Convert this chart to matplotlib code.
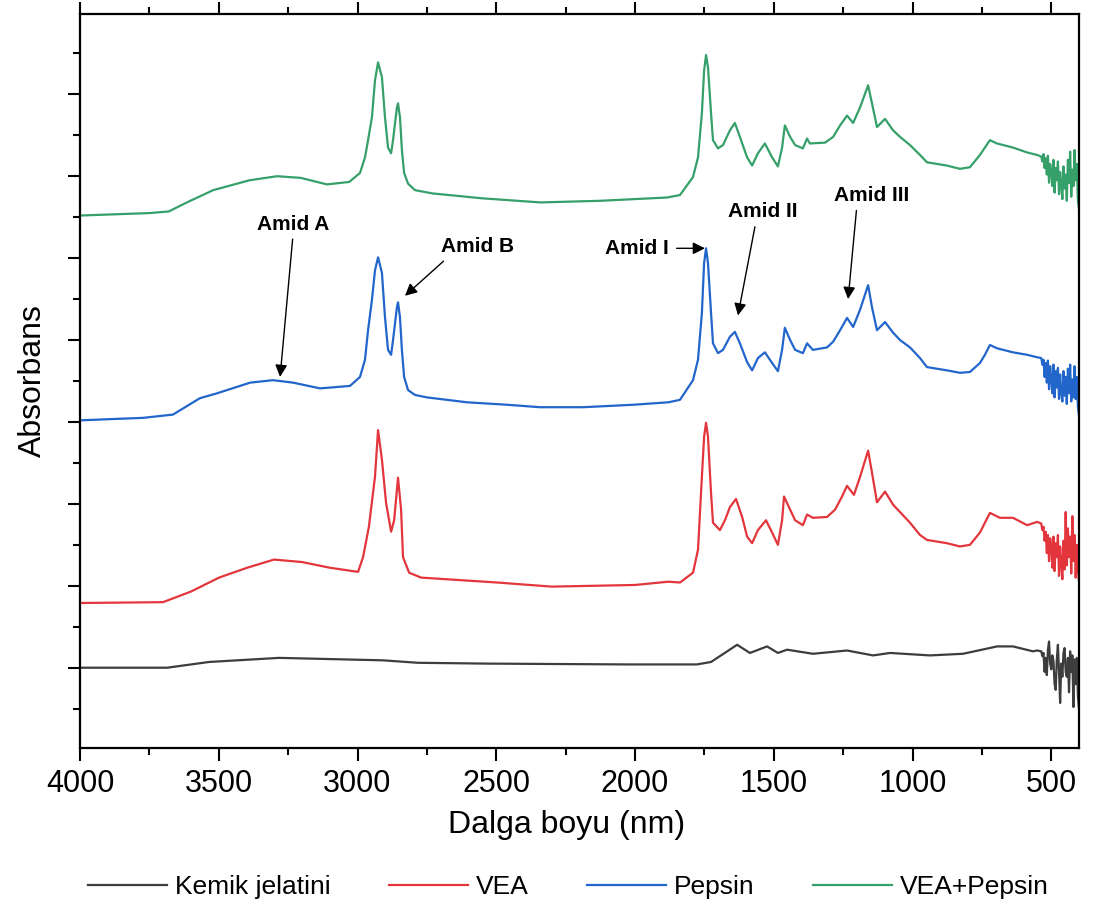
import numpy as np
import matplotlib
matplotlib.use('Agg')
import matplotlib.pyplot as plt
from matplotlib.ticker import MultipleLocator

plt.rcParams['font.family'] = ['Liberation Sans', 'DejaVu Sans']

# Kemik jelatini (gray)
wn_kemik = [4000, 3686, 3535, 3283, 3157, 2908, 2782, 2530, 2029, 1777, 1726, 1632, 1586,
            1524, 1485, 1452, 1359, 1236, 1142, 1081, 937, 818, 695, 638, 566, 551]
a_kemik = [0.0, 0.0, 0.07, 0.12, 0.11, 0.09, 0.06, 0.05, 0.04, 0.04, 0.07, 0.28, 0.18,
           0.26, 0.18, 0.22, 0.17, 0.21, 0.15, 0.18, 0.15, 0.17, 0.26, 0.26, 0.20, 0.21]

# VEA (red)
wn_vea = [4000, 3701, 3600, 3499, 3398, 3301, 3200, 3099, 2998,
          2980, 2959, 2937, 2926, 2912, 2897, 2879, 2868, 2854, 2843,
          2836, 2814, 2771, 2497, 2300, 2000, 1880, 1838, 1791, 1773,
          1759, 1751, 1744, 1737, 1726, 1719, 1694, 1676, 1658, 1636,
          1614, 1596, 1578, 1557, 1528, 1506, 1485, 1470, 1463, 1441,
          1423, 1395, 1380, 1359, 1308, 1279, 1254, 1236, 1211, 1189,
          1160, 1146, 1128, 1099, 1070, 1045, 1009, 973, 948, 912,
          876, 829, 793, 757, 739, 721, 685, 638, 587, 551]
a_vea = [0.79, 0.80, 0.93, 1.10, 1.22, 1.32, 1.29, 1.22, 1.17,
         1.35, 1.72, 2.33, 2.90, 2.54, 2.01, 1.66, 1.80, 2.32, 1.93,
         1.35, 1.16, 1.10, 1.04, 0.99, 1.01, 1.05, 1.04, 1.16, 1.44,
         2.33, 2.82, 2.99, 2.82, 2.13, 1.77, 1.68, 1.80, 1.96, 2.06,
         1.84, 1.60, 1.52, 1.68, 1.80, 1.65, 1.50, 1.80, 2.09, 1.93,
         1.80, 1.74, 1.87, 1.83, 1.84, 1.93, 2.09, 2.22, 2.11, 2.33,
         2.65, 2.38, 2.02, 2.15, 1.99, 1.90, 1.77, 1.62, 1.56, 1.54,
         1.52, 1.48, 1.50, 1.65, 1.77, 1.89, 1.83, 1.83, 1.74, 1.78]

# Pepsin (blue)
wn_pepsin = [4000, 3773, 3665, 3568, 3506, 3387, 3305, 3232, 3135, 3027,
             2991, 2973, 2962, 2948, 2937, 2926, 2912, 2901, 2890, 2879,
             2872, 2858, 2854, 2847, 2840, 2832, 2818, 2793,
             2750, 2605, 2461, 2342, 2187, 2007,
             1880, 1838, 1791, 1773, 1759, 1751, 1744, 1737, 1726, 1719,
             1701, 1683, 1658, 1640, 1622, 1596, 1578, 1557, 1532, 1506,
             1485, 1470, 1460, 1441, 1423, 1395, 1380, 1359, 1308, 1286,
             1261, 1236, 1214, 1189, 1160, 1146, 1128, 1099, 1070, 1045,
             1009, 973, 948, 912, 876, 829, 793, 757, 739, 721,
             696, 638, 587, 551]
a_pepsin = [3.02, 3.05, 3.09, 3.29, 3.35, 3.48, 3.51, 3.48, 3.41, 3.44,
            3.55, 3.76, 4.12, 4.49, 4.85, 5.01, 4.82, 4.28, 3.88, 3.82,
            4.00, 4.40, 4.46, 4.28, 3.88, 3.55, 3.39, 3.33,
            3.30, 3.24, 3.21, 3.18, 3.18, 3.21,
            3.24, 3.27, 3.51, 3.76, 4.33, 4.94, 5.12, 4.94, 4.33, 3.96,
            3.84, 3.88, 4.04, 4.10, 3.96, 3.73, 3.63, 3.78, 3.85, 3.72,
            3.62, 3.88, 4.15, 4.00, 3.88, 3.84, 3.96, 3.88, 3.91, 3.98,
            4.12, 4.27, 4.16, 4.37, 4.67, 4.40, 4.12, 4.22, 4.09, 4.00,
            3.91, 3.78, 3.67, 3.65, 3.63, 3.60, 3.61, 3.72, 3.82, 3.94,
            3.90, 3.85, 3.82, 3.79]

# VEA+Pepsin (green)
wn_vp = [4000, 3750, 3680, 3615, 3520, 3390, 3290, 3205, 3110, 3030,
         2991, 2973, 2962, 2948, 2937, 2926, 2912, 2901, 2890, 2879,
         2872, 2858, 2854, 2847, 2840, 2832, 2818, 2793, 2730, 2550,
         2340, 2125, 1885, 1838, 1791, 1773, 1759, 1751, 1744, 1737,
         1726, 1719, 1701, 1683, 1658, 1640, 1622, 1596, 1578, 1557,
         1532, 1506, 1485, 1470, 1460, 1441, 1423, 1395, 1380, 1370,
         1315, 1286, 1261, 1236, 1214, 1189, 1160, 1146, 1128, 1099,
         1070, 1045, 1009, 973, 948, 912, 876, 829, 793, 757,
         739, 721, 696, 638, 587, 551]
a_vp = [5.52, 5.55, 5.57, 5.68, 5.83, 5.95, 6.00, 5.98, 5.90, 5.93,
        6.04, 6.23, 6.44, 6.72, 7.17, 7.39, 7.21, 6.72, 6.35, 6.28,
        6.44, 6.84, 6.89, 6.72, 6.32, 6.04, 5.91, 5.83, 5.79, 5.73,
        5.68, 5.70, 5.74, 5.77, 5.99, 6.23, 6.77, 7.29, 7.48, 7.33,
        6.77, 6.44, 6.34, 6.38, 6.56, 6.65, 6.48, 6.23, 6.13, 6.28,
        6.40, 6.23, 6.12, 6.35, 6.62, 6.48, 6.38, 6.34, 6.46, 6.40,
        6.41, 6.48, 6.62, 6.74, 6.65, 6.84, 7.11, 6.89, 6.60, 6.70,
        6.56, 6.48, 6.38, 6.26, 6.17, 6.15, 6.13, 6.09, 6.11, 6.26,
        6.35, 6.44, 6.40, 6.35, 6.29, 6.26]

# noisy tail below ~540 nm, same sampling for all four
wn_tail = list(range(536, 399, -4))
tail_kemik = [0.20, 0.14, 0.18, -0.05, 0.12, -0.09, 0.22, 0.32, 0.05, -0.02,
              0.15, 0.08, -0.20, -0.27, 0.10, 0.28, -0.05, -0.43, 0.05, -0.11,
              0.18, 0.24, -0.05, -0.11, 0.12, -0.30, 0.20, -0.05, 0.15, -0.48,
              0.10, -0.20, 0.12, -0.35, -0.50]
tail_vea = [1.76, 1.68, 1.72, 1.55, 1.66, 1.40, 1.62, 1.30, 1.58, 1.48,
            1.22, 1.60, 1.18, 1.52, 1.35, 1.62, 1.12, 1.48, 1.28, 1.08,
            1.55, 1.20, 1.90, 1.25, 1.70, 1.35, 1.60, 1.15, 1.85, 1.30,
            1.62, 1.10, 1.50, 1.20, 1.05]
tail_pepsin = [3.78, 3.70, 3.76, 3.55, 3.72, 3.48, 3.75, 3.40, 3.68, 3.52,
               3.35, 3.70, 3.30, 3.62, 3.42, 3.66, 3.28, 3.58, 3.36, 3.25,
               3.62, 3.32, 3.55, 3.22, 3.65, 3.35, 3.70, 3.25, 3.52, 3.30,
               3.68, 3.28, 3.55, 3.18, 3.08]
tail_vp = [6.24, 6.18, 6.27, 6.10, 6.22, 6.02, 6.25, 5.92, 6.15, 6.05,
           5.88, 6.20, 5.80, 6.10, 5.95, 6.18, 5.78, 6.05, 5.90, 5.72,
           6.12, 5.85, 6.02, 5.70, 6.20, 5.92, 6.30, 5.75, 6.08, 5.88,
           6.32, 5.95, 6.15, 5.70, 5.60]

series = [
    ('Kemik jelatini', wn_kemik, a_kemik, tail_kemik, '#3d3d3d'),
    ('VEA', wn_vea, a_vea, tail_vea, '#e2363c'),
    ('Pepsin', wn_pepsin, a_pepsin, tail_pepsin, '#2266cc'),
    ('VEA+Pepsin', wn_vp, a_vp, tail_vp, '#36a06a'),
]

fig = plt.figure(figsize=(10.93, 9.05), dpi=100)
ax = fig.add_axes([0.0732, 0.1735, 0.914, 0.811])

for name, wn, a, tail, col in series:
    ax.plot(wn + wn_tail, a + tail, color=col, linewidth=1.6, label=name)

ax.set_xlim(4000, 400)
ax.set_ylim(-0.98, 7.98)

ax.xaxis.set_major_locator(MultipleLocator(500))
ax.xaxis.set_minor_locator(MultipleLocator(250))
ax.yaxis.set_major_locator(MultipleLocator(1))
ax.yaxis.set_minor_locator(MultipleLocator(0.5))
ax.tick_params(which='both', direction='out', width=1.5, top=True, right=False,
               labelleft=False, labeltop=False)
ax.tick_params(which='major', length=9)
ax.tick_params(which='minor', length=5)
ax.tick_params(axis='x', labelsize=22, pad=6)
for sp in ax.spines.values():
    sp.set_linewidth(1.6)

ax.set_xlabel('Dalga boyu (nm)', fontsize=23)
ax.xaxis.set_label_coords(0.4875, -0.085)
ax.set_ylabel('Absorbans', fontsize=23, labelpad=14)

# annotations pointing at the Pepsin curve
def arr(rx):
    return dict(arrowstyle='-|>', color='black', lw=1, mutation_scale=18,
                relpos=(rx, 0.0), shrinkA=2, shrinkB=0)

ax.annotate('Amid A', xy=(3279, 3.55), xytext=(3232, 5.3), ha='center', va='bottom',
            fontsize=15, fontweight='bold', arrowprops=arr(0.5))
ax.annotate('Amid B', xy=(2829, 4.54), xytext=(2566, 5.02), ha='center', va='bottom',
            fontsize=15, fontweight='bold', arrowprops=arr(0.1))
ax.annotate('Amid I', xy=(1748, 5.12), xytext=(1880, 5.12), ha='right', va='center',
            fontsize=15, fontweight='bold',
            arrowprops=dict(arrowstyle='-|>', color='black', lw=1, mutation_scale=18,
                            shrinkA=4, shrinkB=0))
ax.annotate('Amid II', xy=(1629, 4.30), xytext=(1539, 5.45), ha='center', va='bottom',
            fontsize=15, fontweight='bold', arrowprops=arr(0.4))
ax.annotate('Amid III', xy=(1232, 4.5), xytext=(1146, 5.65), ha='center', va='bottom',
            fontsize=15, fontweight='bold', arrowprops=arr(0.3))

fig.legend(loc='lower center', bbox_to_anchor=(0.52, -0.02), ncol=4, frameon=False,
           fontsize=19, handlelength=3.0, handletextpad=0.3, columnspacing=2.2)

fig.savefig('out.png', dpi=100)
